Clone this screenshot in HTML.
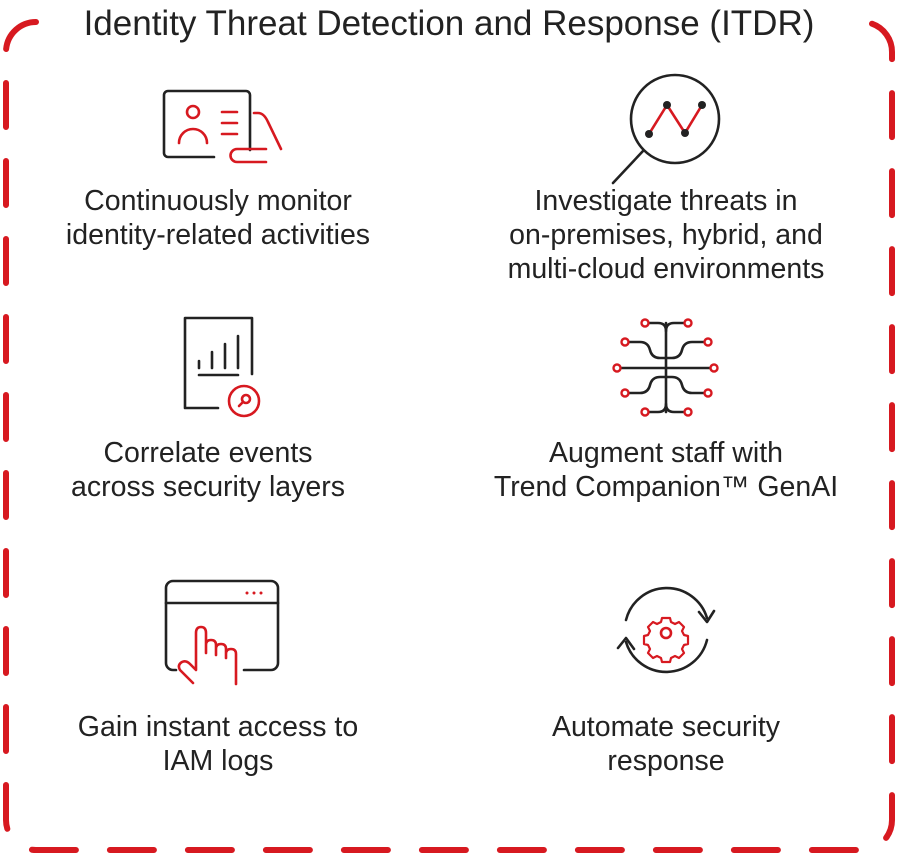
<!DOCTYPE html>
<html><head><meta charset="utf-8"><style>
html,body{margin:0;padding:0;background:#fff;}
svg{display:block}
text{font-family:"Liberation Sans",sans-serif;fill:#222;}
</style></head><body>
<svg width="900" height="854" viewBox="0 0 900 854" xmlns="http://www.w3.org/2000/svg">
<path d="M36 22 A30 30 0 0 0 6 52 V820 A30 30 0 0 0 36 850 H862 A30 30 0 0 0 892 820 V52 A30 30 0 0 0 862 22" fill="none" stroke="#d71920" stroke-width="6" stroke-linecap="round" stroke-dasharray="44 34"/>
<rect x="44" y="0" width="810" height="44" fill="#fff"/>
<text x="449" y="35" font-size="35" text-anchor="middle">Identity Threat Detection and Response (ITDR)</text>

<g font-size="28.5" text-anchor="middle">
<text x="218" y="210">Continuously monitor</text>
<text x="218" y="244">identity-related activities</text>
<text x="666" y="210">Investigate threats in</text>
<text x="666" y="244">on-premises, hybrid, and</text>
<text x="666" y="278">multi-cloud environments</text>
<text x="208" y="462">Correlate events</text>
<text x="208" y="496">across security layers</text>
<text x="666" y="462">Augment staff with</text>
<text x="666" y="496">Trend Companion™ GenAI</text>
<text x="218" y="736">Gain instant access to</text>
<text x="218" y="770">IAM logs</text>
<text x="666" y="736">Automate security</text>
<text x="666" y="770">response</text>
</g>

<g fill="none" stroke-width="2.6" stroke-linecap="round" stroke-linejoin="round">
<!-- icon1 -->
<path d="M214 157 H168 a4 4 0 0 1 -4 -4 V95 a4 4 0 0 1 4 -4 H246 a4 4 0 0 1 4 4 V150" stroke="#222"/>
<circle cx="193" cy="112" r="6" stroke="#d71920"/>
<path d="M179 143 a14 14 0 0 1 28 0" stroke="#d71920"/>
<path d="M222 112 H237 M222 123 H237 M222 134 H237" stroke="#d71920"/>
<path d="M254 113 H258 Q264 113 268 122 L281 149" stroke="#d71920"/>
<path d="M266 149 H237 a6.5 6.5 0 0 0 0 13 H266" stroke="#d71920"/>
<!-- icon2 -->
<circle cx="675" cy="119" r="44" stroke="#222"/>
<path d="M643 151 L613 183" stroke="#222"/>
<path d="M649 134 L667 105 L685 133 L702 105" stroke="#d71920"/>
<g fill="#222" stroke="none"><circle cx="649" cy="134" r="4"/><circle cx="667" cy="105" r="4"/><circle cx="685" cy="133" r="4"/><circle cx="702" cy="105" r="4"/></g>
<!-- icon3 -->
<path d="M218 408 H185 V318 H252 V374" stroke="#222"/>
<path d="M199 368 V361 M212 368 V352 M225 368 V344 M238 368 V336 M199 375 H238" stroke="#222"/>
<circle cx="244" cy="401" r="15" stroke="#d71920"/>
<circle cx="246" cy="399" r="4" stroke="#d71920"/>
<path d="M243 402 L239 406" stroke="#d71920"/>
<!-- icon4 -->
<g stroke="#222">
<path d="M666 323 V412"/>
<path d="M649 323 H658 Q666 323 666 331 Q666 323 674 323 H684"/>
<path d="M649 412 H658 Q666 412 666 404 Q666 412 674 412 H684"/>
<path d="M629 342 H640 Q648 342 650 350 Q652 358 660 358 H672 Q680 358 682 350 Q684 342 692 342 H704"/>
<path d="M629 393 H640 Q648 393 650 385 Q652 377 660 377 H672 Q680 377 682 385 Q684 393 692 393 H704"/>
<path d="M621 368 H710"/>
</g>
<g stroke="#d71920" fill="#fff" stroke-width="2.4">
<circle cx="645" cy="323" r="3.5"/><circle cx="688" cy="323" r="3.5"/>
<circle cx="625" cy="342" r="3.5"/><circle cx="708" cy="342" r="3.5"/>
<circle cx="617" cy="368" r="3.5"/><circle cx="714" cy="368" r="3.5"/>
<circle cx="625" cy="393" r="3.5"/><circle cx="708" cy="393" r="3.5"/>
<circle cx="645" cy="412" r="3.5"/><circle cx="688" cy="412" r="3.5"/>
</g>
<!-- icon5 -->
<path d="M176 670 H173 a7 7 0 0 1 -7 -7 V588 a7 7 0 0 1 7 -7 H271 a7 7 0 0 1 7 7 V663 a7 7 0 0 1 -7 7 H244" stroke="#222"/>
<path d="M166 603 H278" stroke="#222"/>
<g fill="#d71920" stroke="none"><circle cx="247" cy="593" r="1.5"/><circle cx="254" cy="593" r="1.5"/><circle cx="261" cy="593" r="1.5"/></g>
<path d="M193 683 L180 670 Q177 665 182 662 Q186 660 190 664 L196 670 V633 Q196 627 201 627 Q206 627 206 633 V653 V645 Q206 640 211 640 Q216 640 216 645 V655 V649 Q216 644 221 644 Q226 644 226 649 V658 V654 Q226 649 231 649 Q236 649 236 654 V684" stroke="#d71920"/>
<!-- icon6 -->
<path d="M626 620 A42 42 0 0 1 707 618" stroke="#222"/>
<path d="M699 612 L707 622 L714 611" stroke="#222"/>
<path d="M707 640 A42 42 0 0 1 626 642" stroke="#222"/>
<path d="M618 648 L626 638 L634 649" stroke="#222"/>
<circle cx="666" cy="633" r="5" stroke="#d71920"/>
<path d="M662 618 h8 l1 4 4 2 4-2 5 5-2 4 2 4 4 1 v8 l-4 1-2 4 2 4-5 5-4-2-4 2-1 4 h-8 l-1-4-4-2-4 2-5-5 2-4-2-4-4-1 v-8 l4-1 2-4-2-4 5-5 4 2 4-2 z" stroke="#d71920" stroke-width="2.2"/>
</g>
</svg>
</body></html>
